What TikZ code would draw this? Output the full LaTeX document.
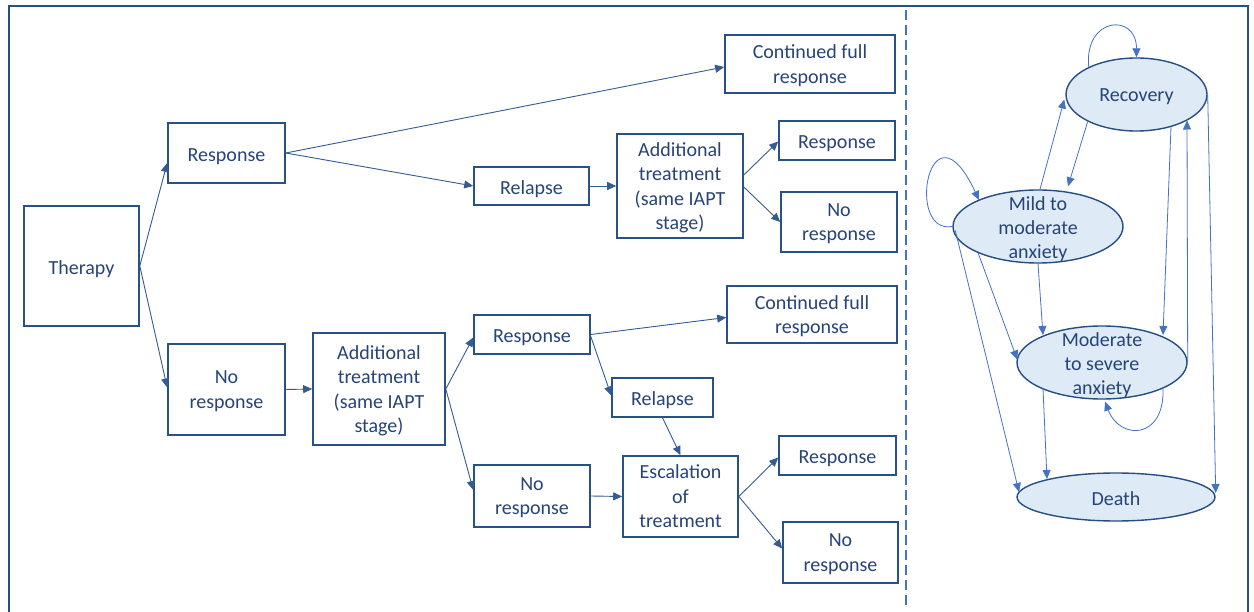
\documentclass[tikz,border=0pt]{standalone}
\usepackage{fontspec}
\setmainfont{Carlito}
\usetikzlibrary{arrows.meta,calc,shapes.geometric}
\definecolor{txtc}{RGB}{38,68,120}
\definecolor{boxc}{RGB}{40,82,135}
\definecolor{linec}{RGB}{52,92,145}
\definecolor{mkc}{RGB}{68,114,196}
\definecolor{ellfill}{RGB}{222,235,247}
\definecolor{ellc}{RGB}{38,78,130}
\definecolor{framec}{RGB}{38,80,130}
\begin{document}
\begin{tikzpicture}[x=1pt,y=-1pt,
  box/.style={draw=boxc, line width=1.6pt, rectangle, inner sep=0pt, align=center, text=txtc, font=\fontsize{20}{24.5}\selectfont},
  one/.style={execute at begin node={\rule{0pt}{19.5pt}}},
  multi/.style={text depth=0pt},
  conn/.style={draw=linec, line width=0.9pt, -{Triangle[length=9pt,width=8pt]}, fill=none},
  stell/.style={draw=ellc, fill=ellfill, line width=1.4pt, ellipse, inner sep=0pt},
  sttxt/.style={inner sep=0pt, align=center, text=txtc, font=\fontsize{20}{24}\selectfont},
  mk/.style={draw=mkc, line width=0.8pt, -{Triangle[length=9pt,width=8pt]}},
  frame/.style={draw=framec, line width=1.8pt},
  divider/.style={draw=mkc, line width=2.6pt, dash pattern=on 10pt off 5pt}
]
\useasboundingbox (0,0) rectangle (1254,612);
\fill[white] (0,0) rectangle (1254,612);
% outer frame and divider
\draw[frame] (9,612) -- (9,6) -- (1248,6) -- (1248,612);
\draw[divider] (906,10) -- (906,606);

% decision tree boxes
\node[box, one, minimum width=115, minimum height=120] (ther) at (81.5,266) {Therapy};
\node[box, one, minimum width=117, minimum height=60] (resp1) at (226.5,153) {Response};
\node[box, multi, minimum width=117, minimum height=91] (noresp1) at (226.5,389.5) {No\\response};
\node[box, multi, minimum width=132, minimum height=112] (add2) at (379,389) {Additional\\treatment\\(same IAPT\\stage)};
\node[box, one, minimum width=115, minimum height=38] (rel1) at (531.5,186) {Relapse};
\node[box, multi, minimum width=126, minimum height=104] (add1) at (680,186) {Additional\\treatment\\(same IAPT\\stage)};
\node[box, multi, minimum width=170, minimum height=58] (cont1) at (810,64) {Continued full\\response};
\node[box, one, minimum width=116, minimum height=39] (resp2) at (837,140.5) {Response};
\node[box, multi, minimum width=116, minimum height=60] (noresp2) at (839,222) {No\\response};
\node[box, multi, minimum width=170, minimum height=57] (cont2) at (812,314.5) {Continued full\\response};
\node[box, one, minimum width=116, minimum height=39] (resp3) at (532,334.5) {Response};
\node[box, one, minimum width=101, minimum height=39] (rel2) at (662.5,397.5) {Relapse};
\node[box, multi, minimum width=116, minimum height=62] (noresp3) at (532,496) {No\\response};
\node[box, multi, minimum width=115, minimum height=81] (esc) at (680.5,496.5) {Escalation\\of\\treatment};
\node[box, one, minimum width=117, minimum height=39] (resp4) at (837.5,455.5) {Response};
\node[box, multi, minimum width=115, minimum height=61] (noresp4) at (840.5,552.5) {No\\response};

% decision tree connectors
\draw[conn] (ther.east) -- ($(resp1.west)+(0,10)$);
\draw[conn] (ther.east) -- ($(noresp1.west)+(0,-2)$);
\draw[conn] (resp1.east) -- ($(cont1.west)+(0,3)$);
\draw[conn] (resp1.east) -- (rel1.west);
\draw[conn] (rel1.east) -- (add1.west);
\draw[conn] ($(add1.east)+(0,-11)$) -- ($(resp2.west)+(0,1)$);
\draw[conn] ($(add1.east)+(0,1)$) -- (noresp2.west);
\draw[conn] (noresp1.east) -- (add2.west);
\draw[conn] (add2.east) -- ($(resp3.west)+(0,3)$);
\draw[conn] (add2.east) -- ($(noresp3.west)+(0,-6)$);
\draw[conn] (resp3.east) -- ($(cont2.west)+(0,3)$);
\draw[conn] ($(resp3.east)+(0,2)$) -- ($(rel2.west)+(0,-2)$);
\draw[conn] (rel2.south) -- (esc.north);
\draw[conn] (noresp3.east) -- (esc.west);
\draw[conn] (esc.east) -- ($(resp4.west)+(0,2)$);
\draw[conn] (esc.east) -- ($(noresp4.west)+(0,-4)$);

% Markov model states
\node[stell, minimum width=141, minimum height=73] (rec) at (1136.5,94.5) {};
\node[stell, minimum width=170, minimum height=73] (mild) at (1038,226.5) {};
\node[stell, minimum width=170, minimum height=73] (mod) at (1102,362.5) {};
\node[stell, minimum width=198, minimum height=48] (death) at (1116,497) {};

% Markov connectors
\draw[mk] (rec.150) .. controls +(-5,-50) and +(0,-45) .. (rec.north);
\draw[mk] (mild.west) .. controls +(-48,8.5) and +(-49,-105) .. ($(mild.center)+(-59,-26.5)$);
\draw[mk] ($(mod.center)+(61,25.5)$) .. controls +(2,52) and +(15,39) .. ($(mod.south)+(3,2)$);
\draw[mk] ($(mild.north)+(2,0)$) -- ($(rec.west)+(-1,5)$);
\draw[mk] (rec.209) -- ($(mild.north)+(30,-3)$);
\draw[mk] (mild.south) -- ($(mod.center)+(-59,-27.5)$);
\draw[mk] (mild.204) -- ($(mod.west)+(1,-3)$);
\draw[mk] ($(mild.west)+(3,4)$) -- ($(death.center)+(-97,-5)$);
\draw[mk] ($(rec.center)+(34.5,32)$) -- ($(mod.center)+(61,-27.5)$);
\draw[mk] (mod.east) -- ($(rec.center)+(50.5,26)$);
\draw[mk] (rec.east) -- ($(death.east)+(0,-4)$);
\draw[mk] ($(mod.center)+(-59,26)$) -- ($(death.center)+(-69,-18)$);

% state labels
\node[sttxt] (rect) at ($(rec.center)+(0,2)$) {Recovery};
\node[sttxt] (mildt) at ($(mild.center)+(0,3)$) {Mild to\\moderate\\anxiety};
\node[sttxt] (modt) at ($(mod.center)+(0,3)$) {Moderate\\to severe\\anxiety};
\node[sttxt] (deatht) at ($(death.center)+(0,2)$) {Death};
\end{tikzpicture}
\end{document}
